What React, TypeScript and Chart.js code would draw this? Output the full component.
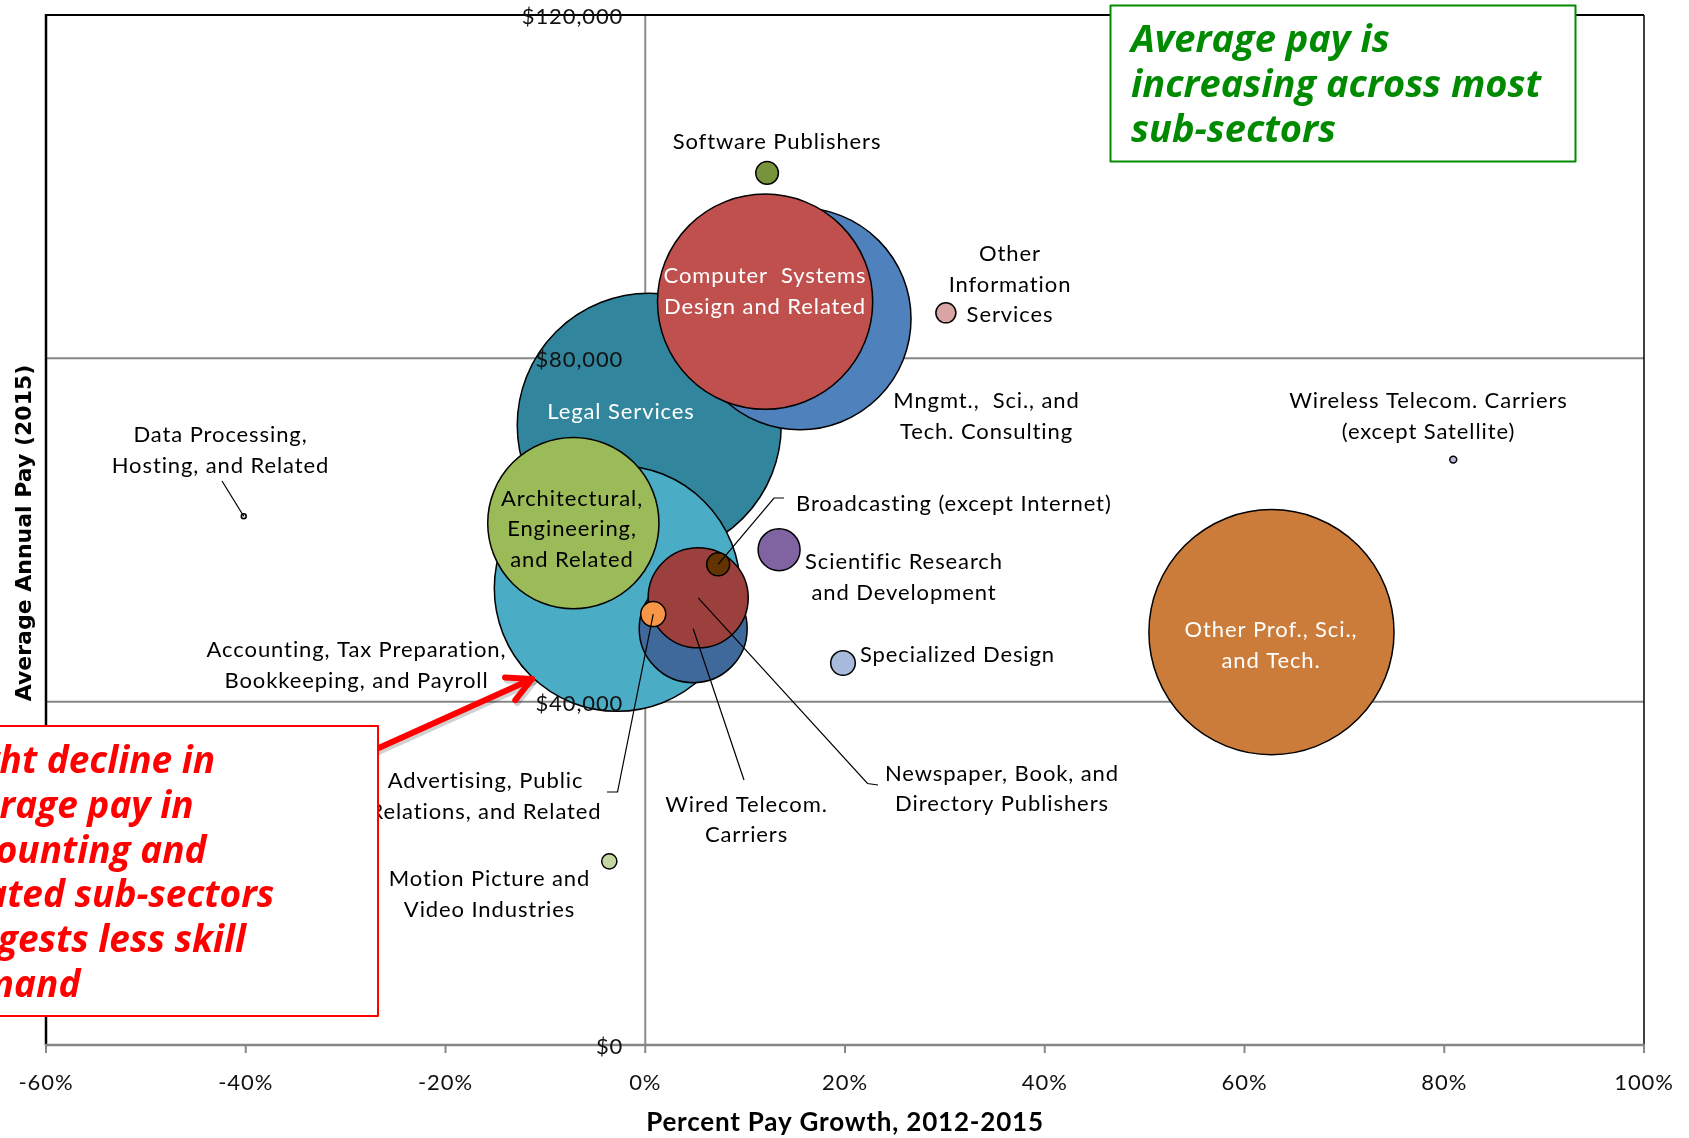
import { useEffect, useRef } from 'react';
import { Chart, registerables } from 'chart.js';

Chart.register(...registerables);

// ---------------- DATA ----------------
// Ordered largest bubble first (drawn first, so smaller bubbles sit on top)
const SUBSECTORS = [
  'Legal Services',
  'Accounting, Tax Preparation, Bookkeeping, and Payroll',
  'Other Prof., Sci., and Tech.',
  'Mngmt., Sci., and Tech. Consulting',
  'Computer Systems Design and Related',
  'Architectural, Engineering, and Related',
  'Wired Telecom. Carriers',
  'Newspaper, Book, and Directory Publishers',
  'Scientific Research and Development',
  'Advertising, Public Relations, and Related',
  'Specialized Design',
  'Broadcasting (except Internet)',
  'Software Publishers',
  'Other Information Services',
  'Motion Picture and Video Industries',
  'Wireless Telecom. Carriers (except Satellite)',
  'Data Processing, Hosting, and Related',
];

// Percent pay growth 2012-2015
const PAY_GROWTH_PCT = [0.4, -2.8, 62.7, 15.5, 12.0, -7.2, 4.8, 5.3, 13.4, 0.8, 19.8, 7.3, 12.2, 30.1, -3.6, 80.9, -40.2];

// Average annual pay 2015 ($)
const AVG_PAY_2015 = [72200, 53200, 48100, 84600, 86600, 60800, 48500, 52100, 57700, 50200, 44500, 56000, 101600, 85300, 21400, 68200, 61600];

// Bubble size (employment)
const EMPLOYMENT = [17400, 15100, 15000, 12300, 11560, 7320, 2910, 2500, 440, 156, 151, 132, 128, 100, 58, 12, 6];

const COLORS = [
  '#31859C', '#4BACC6', '#CC7C3A', '#4F81BD', '#C0504D', '#9BBB59', '#40699B', '#9C403E',
  '#8064A2', '#F79646', '#A9BBDD', '#633400', '#77933C', '#DAA6A5', '#C4D7A0', '#C4B8E0', '#DDDDDD',
];

const X_TICKS = [-60, -40, -20, 0, 20, 40, 60, 80, 100];
const X_TICK_LABELS = ['-60%', '-40%', '-20%', '0%', '20%', '40%', '60%', '80%', '100%'];
const Y_TICKS = [0, 40000, 80000, 120000];
const Y_TICK_LABELS = ['$0', '$40,000', '$80,000', '$120,000'];

const X_TITLE = 'Percent Pay Growth, 2012-2015';
const Y_TITLE = 'Average Annual Pay (2015)';

const GREEN_NOTE = ['Average pay is', 'increasing across most', 'sub-sectors'];
const RED_NOTE = ['Slight decline in', 'average pay in', 'accounting and', 'related sub-sectors', 'suggests less skill', 'demand'];

// ---------------- LAYOUT ----------------
const W = 1689;
const H = 1138;
const MAX_R = 132;

type Ann = { lines: string[]; x: number; y: number; align?: CanvasTextAlign; color?: string; lh?: number };
const ANNOTATIONS: Ann[] = [
  { lines: ['Software Publishers'], x: 777, y: 142 },
  { lines: ['Other', 'Information', 'Services'], x: 1010, y: 254 },
  { lines: ['Computer  Systems', 'Design and Related'], x: 765, y: 276, color: '#fff' },
  { lines: ['Mngmt.,  Sci., and', 'Tech. Consulting'], x: 986.5, y: 401 },
  { lines: ['Wireless Telecom. Carriers', '(except Satellite)'], x: 1428.5, y: 401 },
  { lines: ['Legal Services'], x: 621, y: 412, color: '#fff' },
  { lines: ['Data Processing,', 'Hosting, and Related'], x: 220.5, y: 435 },
  { lines: ['Architectural,', 'Engineering,', 'and Related'], x: 572, y: 498.5 },
  { lines: ['Broadcasting (except Internet)'], x: 796, y: 504, align: 'left' },
  { lines: ['Scientific Research', 'and Development'], x: 904, y: 562 },
  { lines: ['Specialized Design'], x: 860, y: 655, align: 'left' },
  { lines: ['Other Prof., Sci.,', 'and Tech.'], x: 1271, y: 630, color: '#fff' },
  { lines: ['Accounting, Tax Preparation,', 'Bookkeeping, and Payroll'], x: 356.5, y: 650 },
  { lines: ['Advertising, Public', 'Relations, and Related'], x: 485.5, y: 781 },
  { lines: ['Wired Telecom.', 'Carriers'], x: 746.5, y: 804.5 },
  { lines: ['Newspaper, Book, and', 'Directory Publishers'], x: 1002, y: 773.5 },
  { lines: ['Motion Picture and', 'Video Industries'], x: 489.5, y: 879 },
];

// leader lines: from bubble (by index in SUBSECTORS) to label
const LEADERS: { idx: number; pts: number[][] }[] = [
  { idx: 16, pts: [[222, 481]] },
  { idx: 11, pts: [[774, 498], [784, 498]] },
  { idx: 9, pts: [[617.5, 792], [607, 792]] },
  { idx: 6, pts: [[744, 780]] },
  { idx: 7, pts: [[867.5, 783.5], [878, 785]] },
];

const decor = {
  id: 'decor',
  beforeDatasetsDraw(chart: any) {
    const { ctx, chartArea: a, scales } = chart;
    const xs = scales.x;
    const ys = scales.y;
    const line = (x1: number, y1: number, x2: number, y2: number) => {
      ctx.beginPath();
      ctx.moveTo(x1, y1);
      ctx.lineTo(x2, y2);
      ctx.stroke();
    };
    ctx.save();
    ctx.lineCap = 'butt';
    // horizontal gridlines
    ctx.strokeStyle = '#878787';
    ctx.lineWidth = 2;
    for (const v of Y_TICKS) {
      if (v === 0 || v === 120000) continue;
      const py = ys.getPixelForValue(v);
      line(a.left, py, a.right, py);
    }
    // vertical axis at x = 0
    const x0 = xs.getPixelForValue(0);
    ctx.strokeStyle = '#8C8C8C';
    ctx.lineWidth = 2;
    line(x0, a.top, x0, a.bottom);
    for (const v of Y_TICKS) {
      const py = ys.getPixelForValue(v);
      line(x0 - 9, py, x0, py);
    }
    // plot border
    ctx.strokeStyle = '#000';
    ctx.lineWidth = 2.5;
    line(a.left, a.top - 1, a.left, a.bottom);
    ctx.lineWidth = 2;
    line(a.left, a.top, a.right, a.top);
    ctx.lineWidth = 1.5;
    line(a.right, a.top, a.right, a.bottom);
    // x axis line and ticks
    ctx.strokeStyle = '#868686';
    ctx.lineWidth = 2.5;
    line(a.left - 1, a.bottom, a.right + 1, a.bottom);
    ctx.lineWidth = 2;
    for (const v of X_TICKS) {
      const px = xs.getPixelForValue(v);
      line(px, a.bottom, px, a.bottom + 8);
    }
    ctx.restore();
  },
  afterDatasetsDraw(chart: any) {
    const { ctx, chartArea: a, scales } = chart;
    const xs = scales.x;
    const ys = scales.y;
    ctx.save();

    // leader lines
    ctx.strokeStyle = '#000';
    ctx.lineWidth = 1.2;
    for (const L of LEADERS) {
      const bx = xs.getPixelForValue(PAY_GROWTH_PCT[L.idx]);
      const by = ys.getPixelForValue(AVG_PAY_2015[L.idx]);
      ctx.beginPath();
      ctx.moveTo(bx, by);
      for (const p of L.pts) ctx.lineTo(p[0], p[1]);
      ctx.stroke();
    }

    // data labels
    ctx.font = '22px Lato';
    (ctx as any).letterSpacing = '0.9px';
    ctx.textBaseline = 'middle';
    for (const an of ANNOTATIONS) {
      ctx.fillStyle = an.color || '#000';
      ctx.textAlign = an.align || 'center';
      an.lines.forEach((t, i) => ctx.fillText(t, an.x, an.y + i * (an.lh || 30.5)));
    }

    // tick labels
    const x0 = xs.getPixelForValue(0);
    ctx.fillStyle = '#111';
    ctx.textAlign = 'right';
    Y_TICKS.forEach((v, i) => ctx.fillText(Y_TICK_LABELS[i], x0 - 22, ys.getPixelForValue(v) + 2));
    ctx.textAlign = 'center';
    X_TICKS.forEach((v, i) => ctx.fillText(X_TICK_LABELS[i], xs.getPixelForValue(v), 1083));

    // axis titles
    ctx.fillStyle = '#000';
    ctx.font = 'bold 26px Lato';
    (ctx as any).letterSpacing = '0.8px';
    ctx.fillText(X_TITLE, (a.left + a.right) / 2, 1123);
    (ctx as any).letterSpacing = '0px';
    ctx.save();
    ctx.translate(25, 533);
    ctx.rotate(-Math.PI / 2);
    ctx.font = 'bold 22px "DejaVu Sans"';
    ctx.fillText(Y_TITLE, 0, 0);
    ctx.restore();

    // red arrow with shadow
    const drawArrow = (dx: number, dy: number, color: string) => {
      const sx = 372 + dx, sy = 751 + dy, tx = 532 + dx, ty = 679 + dy;
      const ang = Math.atan2(sy - ty, sx - tx);
      const hl = 27;
      ctx.strokeStyle = color;
      ctx.lineWidth = 6;
      ctx.lineCap = 'round';
      ctx.lineJoin = 'round';
      ctx.beginPath();
      ctx.moveTo(sx, sy);
      ctx.lineTo(tx, ty);
      ctx.stroke();
      ctx.beginPath();
      ctx.moveTo(tx + hl * Math.cos(ang + 0.48), ty + hl * Math.sin(ang + 0.48));
      ctx.lineTo(tx, ty);
      ctx.lineTo(tx + hl * Math.cos(ang - 0.48), ty + hl * Math.sin(ang - 0.48));
      ctx.stroke();
    };
    drawArrow(2, 3, 'rgba(0,0,0,0.18)');
    drawArrow(0, 0, '#FF0000');

    // red note box (extends past the left edge)
    ctx.fillStyle = '#fff';
    ctx.fillRect(-10, 726, 388, 290);
    ctx.strokeStyle = '#FF0000';
    ctx.lineWidth = 2;
    ctx.strokeRect(-10, 726, 388, 290);
    ctx.fillStyle = '#FF0000';
    ctx.font = 'italic bold 37px "Open Sans"';
    ctx.textAlign = 'left';
    ctx.textBaseline = 'alphabetic';
    RED_NOTE.forEach((t, i) => ctx.fillText(t, -62, 773 + i * 44.8));

    // green note box
    ctx.fillStyle = '#fff';
    ctx.fillRect(1110.5, 5.5, 465, 156);
    ctx.strokeStyle = '#008A00';
    ctx.lineWidth = 2;
    ctx.strokeRect(1110.5, 5.5, 465, 156);
    ctx.fillStyle = '#008A00';
    ctx.font = 'italic bold 38px "Open Sans"';
    GREEN_NOTE.forEach((t, i) => ctx.fillText(t, 1131, 52 + i * 45));

    ctx.restore();
  },
};

export default function App() {
  const ref = useRef<HTMLCanvasElement>(null);
  useEffect(() => {
    const canvas = ref.current;
    if (!canvas) return;
    const maxEmp = Math.max(...EMPLOYMENT);
    const points = SUBSECTORS.map((_, i) => ({
      x: PAY_GROWTH_PCT[i],
      y: AVG_PAY_2015[i],
      r: MAX_R * Math.sqrt(EMPLOYMENT[i] / maxEmp),
    }));
    const chart = new Chart(canvas, {
      type: 'bubble',
      data: {
        datasets: [
          {
            label: 'Sub-sectors',
            data: points,
            backgroundColor: COLORS,
            borderColor: '#000',
            borderWidth: 1.5,
            clip: false as any,
          },
        ],
      },
      options: {
        responsive: false,
        devicePixelRatio: 1,
        animation: false,
        events: [],
        layout: { autoPadding: false, padding: { left: 46, right: W - 1644, top: 15, bottom: H - 1045 } },
        plugins: { legend: { display: false }, tooltip: { enabled: false } },
        scales: {
          x: { type: 'linear', min: -60, max: 100, display: false },
          y: { type: 'linear', min: 0, max: 120000, display: false },
        },
      },
      plugins: [decor],
    });
    return () => chart.destroy();
  }, []);
  return (
    <div style={{ position: 'fixed', left: 0, top: 0, width: W, height: H, background: '#fff' }}>
      <canvas ref={ref} width={W} height={H} style={{ display: 'block', width: W, height: H }} />
    </div>
  );
}
